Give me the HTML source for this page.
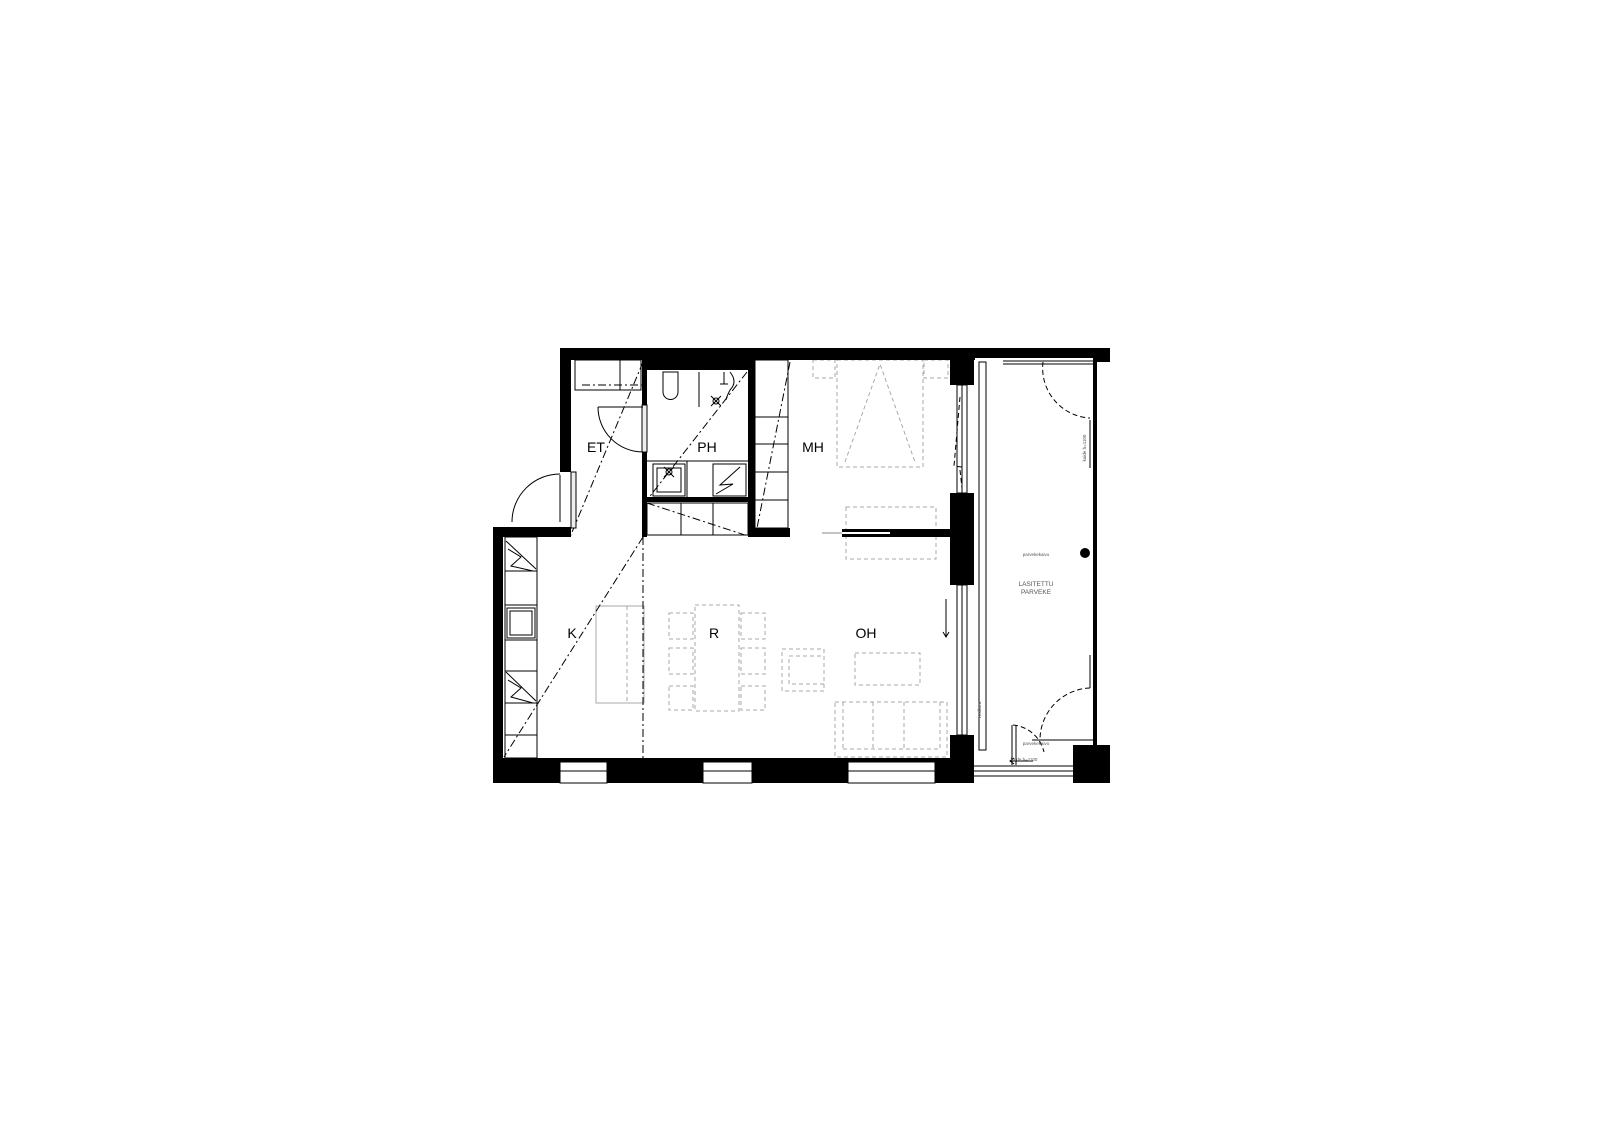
<!DOCTYPE html>
<html><head><meta charset="utf-8"><style>html,body{margin:0;padding:0;background:#fff}svg{display:block}</style></head>
<body>
<svg width="1600" height="1131" viewBox="0 0 1600 1131" xmlns="http://www.w3.org/2000/svg" font-family="Liberation Sans, sans-serif">
<rect width="1600" height="1131" fill="#fff"/>
<!-- furniture dashed -->
<g fill="none" stroke="#aaa" stroke-width="1" stroke-dasharray="4,3">
<rect x="813" y="360" width="22" height="18"/><rect x="924" y="360" width="24" height="18"/>
<rect x="837" y="360" width="86" height="107"/>
<polyline points="845,462 880,364 915,462"/>
<rect x="846" y="507" width="90" height="52"/>
<rect x="846" y="537" width="90" height="0"/>
<rect x="695" y="605" width="44" height="106"/>
<rect x="669" y="613" width="24" height="26"/><rect x="669" y="648" width="24" height="26"/><rect x="669" y="686" width="24" height="24"/>
<rect x="741" y="613" width="24" height="26"/><rect x="741" y="648" width="24" height="26"/><rect x="741" y="686" width="24" height="24"/>
<rect x="782" y="649" width="42" height="42"/><rect x="789" y="656" width="35" height="28"/>
<rect x="855" y="653" width="65" height="32"/>
<rect x="835" y="702" width="112" height="55"/>
<line x1="843" y1="702" x2="843" y2="749"/><line x1="873" y1="702" x2="873" y2="749"/><line x1="904" y1="702" x2="904" y2="749"/><line x1="940" y1="702" x2="940" y2="749"/>
<line x1="843" y1="749" x2="940" y2="749"/>
</g>
<!-- island -->
<g fill="none" stroke="#aaa" stroke-width="1">
<rect x="596" y="606" width="48" height="97"/>
<line x1="627" y1="606" x2="627" y2="703" stroke-dasharray="4,3"/>
</g>
<!-- dash-dot lines -->
<g fill="none" stroke="#000" stroke-width="1" stroke-dasharray="8,3,2,3">
<line x1="643" y1="362" x2="570" y2="537"/>
<line x1="643" y1="537" x2="504" y2="757"/>
<line x1="747" y1="372" x2="647" y2="500"/>
<line x1="647" y1="503" x2="748" y2="536"/>
<line x1="790" y1="362" x2="757" y2="528"/>
<line x1="643" y1="537" x2="643" y2="758"/>
<line x1="582" y1="385" x2="642" y2="385"/>
</g>
<!-- walls -->
<g fill="#000">
<rect x="560" y="348" width="415" height="12"/>
<rect x="647" y="348" width="101" height="22"/>
<rect x="560" y="348" width="11" height="124"/>
<rect x="493" y="527" width="78" height="10"/>
<rect x="493" y="527" width="10" height="256"/>
<rect x="493" y="758" width="481" height="25"/>
<rect x="642" y="360" width="5" height="45"/>
<rect x="642" y="452" width="5" height="85"/>
<rect x="647" y="497" width="101" height="5"/>
<rect x="748" y="360" width="7" height="177"/>
<rect x="748" y="528" width="42" height="9"/>
<rect x="842" y="529" width="108" height="8"/>
<rect x="950" y="348" width="24" height="37"/>
<rect x="950" y="493" width="24" height="92"/>
<rect x="950" y="735" width="24" height="48"/>
<rect x="974" y="348" width="136" height="10"/>
<rect x="1097" y="348" width="13" height="14"/>
<rect x="1093" y="358" width="4" height="388"/>
<rect x="1073" y="745" width="37" height="38"/>
<circle cx="1085" cy="553" r="5"/>
</g>
<!-- window gaps in bottom wall -->
<g fill="#fff" stroke="#000" stroke-width="1">
<rect x="560" y="762" width="47" height="21"/><rect x="703" y="762" width="49" height="21"/><rect x="848" y="762" width="87" height="21"/>
<rect x="957" y="385" width="10" height="108"/><rect x="957" y="585" width="10" height="150"/>
<rect x="979" y="362" width="7" height="388"/>
<rect x="571" y="472" width="5" height="56" fill="#eee"/>
<rect x="642" y="405" width="5" height="47" fill="#eee"/>
</g>
<g stroke="#000" stroke-width="1" fill="none">
<line x1="560" y1="771" x2="607" y2="771"/><line x1="703" y1="771" x2="752" y2="771"/><line x1="848" y1="771" x2="935" y2="771"/>
<line x1="962" y1="385" x2="962" y2="493"/><line x1="962" y1="585" x2="962" y2="735"/>
<line x1="974" y1="766" x2="1073" y2="766"/><line x1="974" y1="771" x2="1073" y2="771"/><line x1="974" y1="776" x2="1073" y2="776"/>
<line x1="1003" y1="361" x2="1093" y2="361"/><line x1="1003" y1="364" x2="1093" y2="364"/>
<!-- doors -->
<line x1="560" y1="475" x2="560" y2="522"/>
<path d="M512,522 A48,48 0 0 1 560,474"/>
<line x1="598" y1="407" x2="643" y2="407"/>
<path d="M598,407 A45,45 0 0 0 643,452"/>
<!-- kitchen counter -->
<rect x="505" y="537" width="32" height="221"/>
<line x1="505" y1="571" x2="537" y2="571"/><line x1="505" y1="605" x2="537" y2="605"/><line x1="505" y1="640" x2="537" y2="640"/><line x1="505" y1="671" x2="537" y2="671"/><line x1="505" y1="703" x2="537" y2="703"/><line x1="505" y1="735" x2="537" y2="735"/>
<rect x="507" y="608" width="28" height="30"/><rect x="510" y="611" width="22" height="24"/>
<polyline points="506,541 536,569"/><polyline points="508,549 521,557 511,566 533,571"/>
<polyline points="506,672 536,701"/><polyline points="508,680 521,688 511,697 533,703"/>
<!-- PH fixtures -->
<path d="M663,372 h15 v20 a7,7 0 0 1 -15,0 z"/>
<line x1="699" y1="372" x2="699" y2="407"/>
<rect x="653" y="464" width="32" height="32"/><rect x="657" y="468" width="24" height="24"/>
<rect x="713" y="464" width="33" height="32"/>
<polyline points="740,467 720,485 733,484 716,494"/>
<line x1="647" y1="461" x2="748" y2="461"/>
<line x1="687" y1="461" x2="687" y2="497"/>
<circle cx="716" cy="401" r="3"/>
<line x1="711" y1="396" x2="721" y2="406"/><line x1="721" y1="396" x2="711" y2="406"/>
<circle cx="669" cy="472" r="3"/>
<line x1="664" y1="467" x2="674" y2="477"/><line x1="674" y1="467" x2="664" y2="477"/>
<path d="M724,372 v12 M720,384 h8 M730,372 q8,10 0,18 q-4,8 -4,10"/>
<!-- closets -->
<rect x="647" y="503" width="101" height="32"/>
<line x1="681" y1="503" x2="681" y2="535"/><line x1="713" y1="503" x2="713" y2="535"/>
<rect x="575" y="360" width="66" height="30"/>
<line x1="620" y1="360" x2="620" y2="390"/>
<rect x="755" y="360" width="33" height="168"/>
<line x1="755" y1="417" x2="788" y2="417"/><line x1="755" y1="444" x2="788" y2="444"/><line x1="755" y1="472" x2="788" y2="472"/><line x1="755" y1="500" x2="788" y2="500"/>
<line x1="822" y1="533" x2="842" y2="533" stroke="#888"/>
<line x1="842" y1="533" x2="890" y2="533" stroke="#fff" stroke-width="2"/>
<!-- balcony door arcs -->
<path d="M1043,362 A50,50 0 0 0 1090,418" stroke-dasharray="5,3"/>
<path d="M1090,688 A52,52 0 0 0 1040,740" stroke-dasharray="5,3"/>
<path d="M1013,725 A35,35 0 0 1 1044,752" stroke-dasharray="5,3"/>
<line x1="1032" y1="740" x2="1093" y2="740"/>
<line x1="1012" y1="725" x2="1012" y2="765"/><line x1="1016" y1="725" x2="1016" y2="765"/>
<line x1="1090" y1="420" x2="1090" y2="468"/><line x1="1090" y1="655" x2="1090" y2="688"/>
<line x1="946" y1="599" x2="946" y2="636"/><polyline points="943,632 946,637 949,632"/>
<line x1="1010" y1="761" x2="1033" y2="761"/><polyline points="1014,758 1010,761 1014,764"/>
<path d="M960,397 L954,466 L962,467 M960,470 L962,488" stroke-dasharray="5,3"/>
</g>
<!-- labels -->
<g font-size="14" fill="#000" text-anchor="middle">
<text x="596" y="452">ET</text><text x="707" y="452">PH</text><text x="813" y="452">MH</text>
<text x="572" y="638">K</text><text x="714" y="638">R</text><text x="866" y="638">OH</text>
</g>
<g font-size="6.5" fill="#555" text-anchor="middle">
<text x="1036" y="586">LASITETTU</text><text x="1036" y="594">PARVEKE</text>
</g>
<g font-size="4.5" fill="#555" text-anchor="middle">
<text x="1036" y="556">parvekekaivo</text><text x="1036" y="745">parvekekaivo</text>
<text x="1024" y="761">kaide h=1100</text>
<text transform="translate(1086,448) rotate(-90)">kaide h=1100</text>
<text transform="translate(981,710) rotate(-90)">vesikura</text>
</g>
</svg>
</body></html>
